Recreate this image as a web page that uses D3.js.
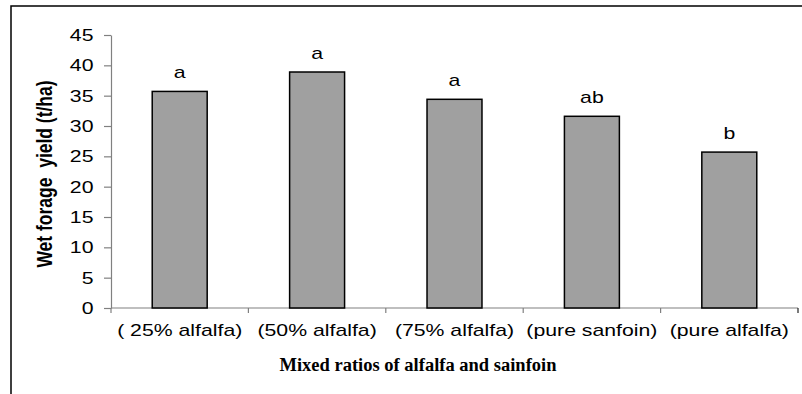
<!DOCTYPE html>
<html>
<head>
<meta charset="utf-8">
<script src="https://cdn.jsdelivr.net/npm/d3@7"></script>
<style>
  html, body { margin: 0; padding: 0; background: #fff; }
  svg { display: block; }
</style>
</head>
<body>
<div id="chart"></div>
<script>
const categories = ["( 25% alfalfa)", "(50% alfalfa)", "(75% alfalfa)", "(pure sanfoin)", "(pure alfalfa)"];
const values = [35.7, 38.9, 34.4, 31.6, 25.7];
const groupLetters = ["a", "a", "a", "ab", "b"];
const yTicks = [0, 5, 10, 15, 20, 25, 30, 35, 40, 45];
const yTitle = "Wet forage  yield (t/ha)";
const xTitle = "Mixed ratios of alfalfa and sainfoin";

const W = 802, H = 394;
const sx = 1.25; // horizontal stretch of chart text
const sans = "'Liberation Sans', Arial, sans-serif";
const serif = "'Liberation Serif', 'Times New Roman', serif";

const svg = d3.select("#chart").append("svg")
  .attr("width", W).attr("height", H);

svg.append("rect").attr("width", W).attr("height", H).attr("fill", "#fff");

// outer frame (only top and left edges visible)
svg.append("path")
  .attr("d", "M11,394 V6 H802")
  .attr("fill", "none").attr("stroke", "#000").attr("stroke-width", 1.5);

const x = d3.scaleBand().domain(categories).range([111, 798])
  .paddingInner(0.6).paddingOuter(0.3);
const y = d3.scaleLinear().domain([0, 45]).range([308, 35]);

const axisColor = "#808080";

// y axis
const yAxis = svg.append("g").attr("transform", `translate(${x.range()[0]},0)`)
  .call(d3.axisLeft(y).tickValues(yTicks).tickSize(7).tickSizeOuter(0).tickFormat(""));
yAxis.select(".domain").attr("stroke", axisColor).attr("stroke-width", 1.2);
yAxis.selectAll(".tick line").attr("stroke", axisColor).attr("stroke-width", 1.2);

// y tick labels
svg.append("g").selectAll("text").data(yTicks).join("text")
  .attr("transform", d => `translate(93.5,${y(d)}) scale(${sx},1)`)
  .attr("text-anchor", "end").attr("dy", "0.36em")
  .attr("font-family", sans).attr("font-size", 17).attr("fill", "#000")
  .text(d => d);

// x axis with ticks at category boundaries
const xAxis = svg.append("g").attr("transform", `translate(0,${y(0)})`);
xAxis.append("line")
  .attr("x1", x.range()[0]).attr("x2", x.range()[1])
  .attr("stroke", axisColor).attr("stroke-width", 1.2);
const boundaries = categories.map(c => x(c) - x.step() * x.paddingOuter()).concat([x.range()[1]]);
xAxis.selectAll("line.tk").data(boundaries).join("line").attr("class", "tk")
  .attr("x1", d => d).attr("x2", d => d).attr("y1", 0).attr("y2", 5)
  .attr("stroke", (d, i) => i === boundaries.length - 1 ? "#222" : axisColor)
  .attr("stroke-width", 1.2);

// bars
svg.append("g").selectAll("rect").data(values).join("rect")
  .attr("x", (d, i) => x(categories[i]))
  .attr("width", x.bandwidth())
  .attr("y", d => y(d))
  .attr("height", d => y(0) - y(d))
  .attr("fill", "#a0a0a0").attr("stroke", "#000").attr("stroke-width", 1.5);

// significance letters
svg.append("g").selectAll("text").data(values).join("text")
  .attr("transform", (d, i) => `translate(${x(categories[i]) + x.bandwidth() / 2},${y(d) - 13.5}) scale(${sx},1)`)
  .attr("text-anchor", "middle")
  .attr("font-family", sans).attr("font-size", 17).attr("fill", "#000")
  .text((d, i) => groupLetters[i]);

// category labels
svg.append("g").selectAll("text").data(categories).join("text")
  .attr("transform", d => `translate(${x(d) + x.bandwidth() / 2},336) scale(${sx},1)`)
  .attr("text-anchor", "middle")
  .attr("font-family", sans).attr("font-size", 17).attr("fill", "#000")
  .text(d => d);

// y title
svg.append("text")
  .attr("transform", `translate(52,174) scale(${sx},1) rotate(-90)`)
  .attr("text-anchor", "middle")
  .attr("font-family", sans).attr("font-size", 17.5).attr("font-weight", "bold")
  .attr("fill", "#000").attr("xml:space", "preserve").style("white-space", "pre")
  .text(yTitle);

// x title
svg.append("text")
  .attr("x", 418).attr("y", 370.5)
  .attr("text-anchor", "middle")
  .attr("font-family", serif).attr("font-size", 18.5).attr("font-weight", "bold")
  .attr("fill", "#000")
  .text(xTitle);
</script>
</body>
</html>
